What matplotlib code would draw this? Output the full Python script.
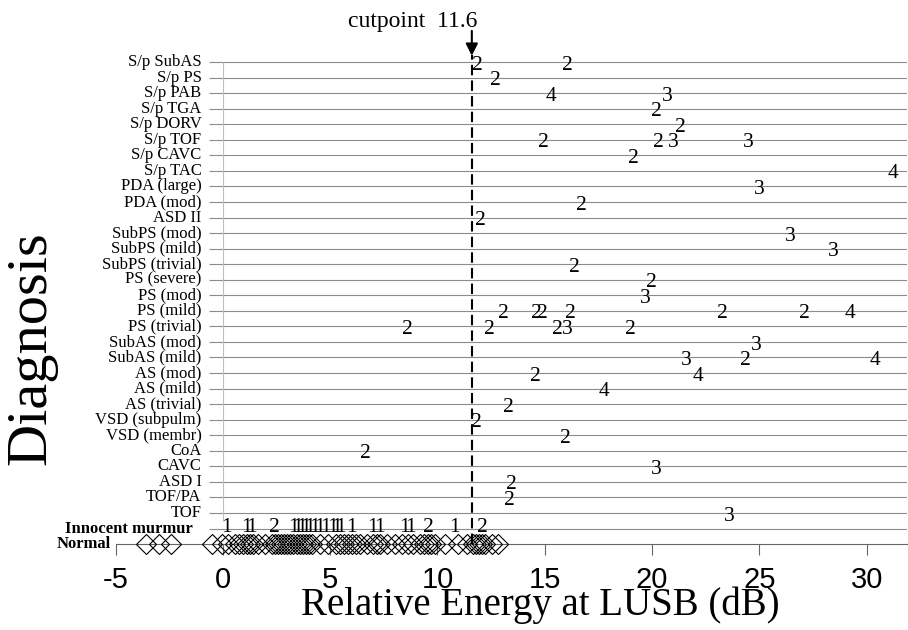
import matplotlib
matplotlib.use("Agg")
import matplotlib.pyplot as plt

# 诊断类别（从上到下）
categories = [
    "S/p SubAS", "S/p PS", "S/p PAB", "S/p TGA", "S/p DORV", "S/p TOF",
    "S/p CAVC", "S/p TAC", "PDA (large)", "PDA (mod)", "ASD II",
    "SubPS (mod)", "SubPS (mild)", "SubPS (trivial)", "PS (severe)",
    "PS (mod)", "PS (mild)", "PS (trivial)", "SubAS (mod)", "SubAS (mild)",
    "AS (mod)", "AS (mild)", "AS (trivial)", "VSD (subpulm)", "VSD (membr)",
    "CoA", "CAVC", "ASD I", "TOF/PA", "TOF", "Innocent murmur", "Normal",
]

# 病理性杂音：类别、能量 (dB)、杂音分级
path_cat = [
    "S/p SubAS", "S/p SubAS", "S/p PS", "S/p PAB", "S/p PAB", "S/p TGA",
    "S/p DORV", "S/p TOF", "S/p TOF", "S/p TOF", "S/p TOF", "S/p CAVC",
    "S/p TAC", "PDA (large)", "PDA (mod)", "ASD II", "SubPS (mod)",
    "SubPS (mild)", "SubPS (trivial)", "PS (severe)", "PS (mod)",
    "PS (mild)", "PS (mild)", "PS (mild)", "PS (mild)", "PS (mild)",
    "PS (mild)", "PS (mild)",
    "PS (trivial)", "PS (trivial)", "PS (trivial)", "PS (trivial)", "PS (trivial)",
    "SubAS (mod)", "SubAS (mild)", "SubAS (mild)", "SubAS (mild)",
    "AS (mod)", "AS (mod)", "AS (mild)", "AS (trivial)", "VSD (subpulm)",
    "VSD (membr)", "CoA", "CAVC", "ASD I", "TOF/PA", "TOF",
]
path_db = [
    11.87, 16.03, 12.72, 15.3, 20.72, 20.2,
    21.33, 14.94, 20.28, 20.98, 24.48, 19.12,
    31.24, 24.99, 16.71, 12.02, 26.42,
    28.44, 16.40, 19.98, 19.70,
    13.06, 14.6, 14.9, 16.2, 23.28,
    27.09, 29.22,
    8.6, 12.41, 15.58, 16.04, 18.97,
    24.84, 21.58, 24.37, 30.38,
    14.54, 22.12, 17.77, 13.30, 11.82,
    15.97, 6.65, 20.18, 13.45, 13.37, 23.59,
]
path_grade = [
    2, 2, 2, 4, 3, 2,
    2, 2, 2, 3, 3, 2,
    4, 3, 2, 2, 3,
    3, 2, 2, 3,
    2, 2, 2, 2, 2,
    2, 4,
    2, 2, 2, 3, 2,
    3, 3, 2, 4,
    2, 4, 4, 2, 2,
    2, 2, 3, 2, 2, 3,
]

# 无害性杂音
innocent_db = [0.17, 1.10, 1.34, 2.42, 3.31, 3.49, 3.68, 3.87, 4.05, 4.29,
               4.52, 4.80, 5.13, 5.31, 5.50, 6.01, 6.99, 7.32, 8.48, 8.76,
               9.57, 10.81, 12.07]
innocent_grade = [1, 1, 1, 2, 1, 1, 1, 1, 1, 1,
                  1, 1, 1, 1, 1, 1, 1, 1, 1, 1,
                  2, 1, 2]

# 正常组
normal_db = [-3.58, -2.99, -2.42,
             -0.53, -0.06, 0.23, 0.56, 0.75, 0.93, 1.12, 1.26, 1.40, 1.63,
             1.96, 2.28, 2.42, 2.56, 2.70, 2.84, 2.98, 3.12, 3.26, 3.45,
             3.59, 3.73, 3.87, 4.01, 4.15, 4.52, 4.89, 5.27, 5.45, 5.64,
             5.82, 6.01, 6.20, 6.38, 6.71, 6.99, 7.18, 7.32, 7.64, 8.01,
             8.34, 8.62, 8.85, 9.18, 9.37, 9.55, 9.69, 9.88, 10.34, 10.95,
             11.37, 11.65, 11.79, 11.93, 12.07, 12.21, 12.53, 12.81]

cutpoint = 11.6
xticks = [-5, 0, 5, 10, 15, 20, 25, 30]

SERIF = ["Liberation Serif", "DejaVu Serif"]
SANS = ["Liberation Sans Narrow", "Liberation Sans", "DejaVu Sans"]

n = len(categories)
row = {c: n - 1 - i for i, c in enumerate(categories)}  # Normal -> 0

fig = plt.figure(figsize=(9.08, 6.30), dpi=100)
ax = fig.add_axes([0.1273, 0.1364, 0.8721, 0.7775])
ax.set_xlim(-5, 31.9)
ax.set_ylim(0, 31.5)

# 类别横线
ax.hlines([row[c] for c in categories[:-1]], -0.65, 31.9,
          color="0.55", lw=0.8, zorder=1)
ax.vlines(0, 1.5, row[categories[0]], color="0.75", lw=0.8, zorder=1)

# 截断点虚线
ax.plot([cutpoint, cutpoint], [0, 31.45], color="black", lw=1.5,
        ls=(0, (5, 2.5)), zorder=2, clip_on=False)
ax.annotate("", xy=(cutpoint, 31.4), xytext=(cutpoint, 33.0),
            arrowprops=dict(arrowstyle="-|>", color="black", lw=1.5,
                            mutation_scale=18, shrinkA=0, shrinkB=0),
            annotation_clip=False)
ax.text(cutpoint + 0.25, 33.25, "cutpoint  11.6", ha="right", va="baseline",
        fontsize=17, family=SERIF, clip_on=False)

# 病理性杂音（分级数字）
for c, v, g in zip(path_cat, path_db, path_grade):
    ax.text(v, row[c] - 0.2, str(g), ha="center", va="center",
            fontsize=15.5, family=SERIF, zorder=3)

# 无害性杂音
y_inn = row["Innocent murmur"]
for v, g in zip(innocent_db, innocent_grade):
    ax.text(v, y_inn + 0.05, str(g), ha="center", va="center",
            fontsize=15.5, family=SERIF, zorder=3)

# 正常组
ax.plot(normal_db, [row["Normal"]] * len(normal_db), ls="none", marker="D",
        ms=10, mfc="none", mec="black", mew=0.8, clip_on=False, zorder=4)

# 类别标签
for c in categories:
    if c == "Normal":
        ax.text(-5.2, row[c], c, ha="right", va="center", fontsize=12,
                fontweight="bold", family=SERIF)
    elif c == "Innocent murmur":
        ax.text(-1.4, row[c], c, ha="right", va="center", fontsize=12,
                fontweight="bold", family=SERIF)
    else:
        ax.text(-1.0, row[c], c, ha="right", va="center", fontsize=12,
                family=SERIF)

# 坐标轴
for s in ["top", "right", "left"]:
    ax.spines[s].set_visible(False)
ax.spines["bottom"].set_color("0.4")
ax.spines["bottom"].set_linewidth(0.8)
ax.set_yticks([])
ax.set_xticks(xticks)
ax.set_xticklabels([str(t) for t in xticks], family=SANS, fontsize=21)
ax.tick_params(axis="x", direction="out", length=8, width=0.8,
               color="0.4", pad=8)

fig.text(0.595, 0.04, "Relative Energy at LUSB (dB)", ha="center",
         va="center", fontsize=28, family=SERIF)
fig.text(0.035, 0.448, "Diagnosis", ha="center", va="center", rotation=90,
         fontsize=42, family=SERIF)

fig.savefig("out.png", dpi=100)
plt.close(fig)
